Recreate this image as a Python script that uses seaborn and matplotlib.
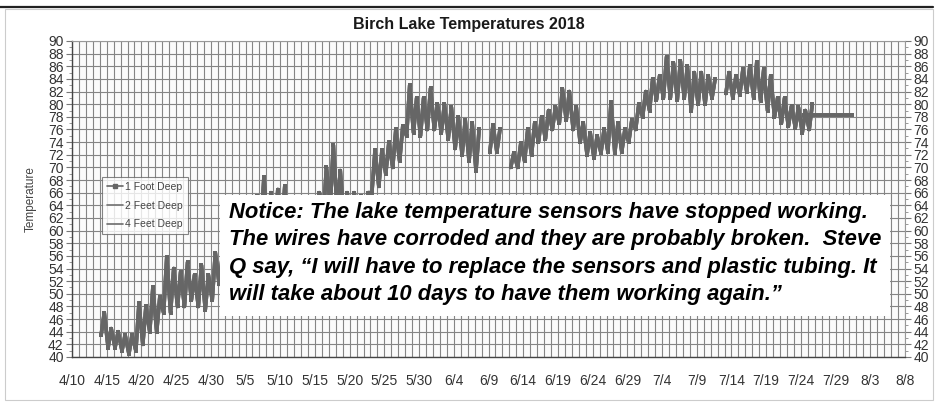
import numpy as np
import pandas as pd
import matplotlib
matplotlib.use("Agg")
import matplotlib.pyplot as plt
import matplotlib.patches as mpatches
from matplotlib.lines import Line2D
import seaborn as sns

# ---------------- data ----------------
title = "Birch Lake Temperatures 2018"
y_label = "Temperature"
depths = ["1 Foot Deep", "2 Feet Deep", "4 Feet Deep"]

# first day with data = 4/14  (day 4 counted from 4/10)
first_day = 4
# daily low / high temperatures (deg F), 4/14 ... 7/25 ; None = no data
daily_low = [43.5, 41.5, 41.5, 41.0, 40.5, 41.0, 42.0, 44.0, 44.0, 47.0,   # 4/14-4/23
             47.0, 48.0, 48.0, 49.0, 48.0, 47.5, 49.0, 51.5, 52.0, 53.0,   # 4/24-5/3
             54.0, 56.0, 58.0, 60.0, 59.0, 60.0, 60.0, 58.0, 57.0, 57.0,   # 5/4-5/13
             58.0, 60.0, 62.0, 64.0, 63.0, 61.0, 60.0, 61.0, 62.0, 66.0,   # 5/14-5/23
             67.0, 69.0, 70.0, 71.0, 75.0, 75.5, 75.0, 76.0, 76.0, 75.5,   # 5/24-6/2
             74.5, 73.0, 72.0, 71.0, 69.5, None, 72.5, 72.5, None, 70.0,   # 6/3-6/12
             70.0, 71.0, 72.0, 74.0, 74.5, 76.0, 77.0, 77.5, 76.0, 74.0,   # 6/13-6/22
             72.0, 71.5, 72.3, 72.5, 72.3, 72.5, 74.0, 76.0, 78.0, 79.0,   # 6/23-7/2
             80.7, 81.0, 81.0, 80.7, 81.0, 79.0, 80.0, 80.0, 81.0, None,   # 7/3-7/12
             81.7, 81.0, 81.5, 82.0, 81.0, 80.5, 79.0, 78.0, 77.0, 76.5,   # 7/13-7/22
             76.3, 75.5, 76.0]                                             # 7/23-7/25
daily_high = [47.0, 44.5, 44.0, 43.5, 43.5, 48.5, 48.0, 51.0, 49.5, 55.8,
              54.0, 53.5, 55.0, 53.0, 54.5, 53.0, 56.5, 56.0, 57.0, 58.0,
              60.0, 62.0, 65.5, 68.5, 66.0, 66.5, 67.0, 65.0, 63.0, 63.5,
              64.5, 66.0, 70.0, 73.5, 69.5, 66.0, 66.0, 65.5, 66.0, 72.7,
              72.7, 74.0, 76.0, 76.5, 83.0, 81.0, 81.0, 82.5, 80.0, 80.0,
              79.5, 78.0, 77.5, 77.0, 76.0, None, 76.7, 76.0, None, 72.3,
              73.8, 76.0, 77.0, 78.0, 79.0, 79.6, 82.4, 82.0, 79.5, 77.0,
              75.5, 75.0, 76.0, 80.3, 77.0, 76.0, 77.5, 80.0, 82.0, 84.0,
              84.5, 87.5, 86.5, 86.8, 86.0, 85.0, 85.0, 84.5, 84.0, None,
              85.0, 84.5, 85.5, 86.0, 86.7, 85.5, 84.5, 81.0, 81.0, 79.7,
              79.5, 79.0, 80.0]
# stuck sensor reading after 7/25 (flat line)
flat_value = 78.3
flat_days = [105.5, 112.4]

x_tick_labels = ["4/10", "4/15", "4/20", "4/25", "4/30", "5/5", "5/10", "5/15",
                 "5/20", "5/25", "5/30", "6/4", "6/9", "6/14", "6/19", "6/24",
                 "6/29", "7/4", "7/9", "7/14", "7/19", "7/24", "7/29", "8/3", "8/8"]
y_ticks = list(range(40, 91, 2))

notice = ("Notice: The lake temperature sensors have stopped working.\n"
          "The wires have corroded and they are probably broken.  Steve\n"
          "Q say, \u201cI will have to replace the sensors and plastic tubing. It\n"
          "will take about 10 days to have them working again.\u201d")

# ---------------- build long table ----------------
rows = []
seg = 0
for i, (lo, hi) in enumerate(zip(daily_low, daily_high)):
    d = first_day + i
    if lo is None:
        seg += 1
        continue
    rows.append((d + 0.2, lo, seg))
    rows.append((d + 0.65, hi, seg))
seg += 1
for fd in flat_days:
    rows.append((fd, flat_value, seg))
base = pd.DataFrame(rows, columns=["day", "temp", "seg"])

# ---------------- figure ----------------
sns.set_theme(style="white")
plt.rcParams["font.family"] = ["Liberation Sans Narrow", "Liberation Sans", "DejaVu Sans"]

fig = plt.figure(figsize=(9.4, 4.03), dpi=100)
fig.patch.set_facecolor("white")
W, H = 940, 403
ax = fig.add_axes([72 / W, (H - 357) / H, (905 - 72) / W, (357 - 41) / H])
ax.set_facecolor("#fbfbfb")

styles = {"1 Foot Deep": dict(color="#666666", lw=2.6, marker="s", ms=2.6),
          "2 Feet Deep": dict(color="#707070", lw=2.6, marker=None, ms=0),
          "4 Feet Deep": dict(color="#6c6c6c", lw=2.6, marker=None, ms=0)}
for dep in reversed(depths):
    st = styles[dep]
    sns.lineplot(data=base, x="day", y="temp", units="seg", estimator=None,
                 sort=False, color=st["color"], lw=st["lw"],
                 marker=st["marker"], markersize=st["ms"],
                 markeredgewidth=0, ax=ax, legend=False, zorder=3)

ax.set_xlim(0, 120)
ax.set_ylim(40, 90)
ax.set_xticks(np.arange(0, 121, 5))
ax.set_xticklabels(x_tick_labels)
ax.set_xticks(np.arange(0, 121, 1), minor=True)
ax.set_yticks(y_ticks)
ax.set_yticks(np.arange(41, 90, 2), minor=True)
ax.set_xlabel("")
ax.set_ylabel(y_label, fontsize=8.5, color="#444444", labelpad=8)

ax.grid(which="minor", axis="x", color="#858585", lw=0.8)
ax.grid(which="major", axis="x", color="#858585", lw=0.8)
ax.grid(which="major", axis="y", color="#858585", lw=0.8)
ax.set_axisbelow(True)

ax.tick_params(axis="x", which="major", length=4, width=0.8, color="#555555",
               labelsize=10, labelcolor="#333333", pad=8)
ax.tick_params(axis="x", which="minor", length=0)
ax.tick_params(axis="y", which="major", length=4, width=0.8, color="#777777",
               labelsize=10, labelcolor="#333333", pad=2,
               left=True, right=True, labelleft=True, labelright=True)
ax.tick_params(axis="y", which="minor", length=2, width=0.6, color="#888888",
               left=True, right=True)
for s in ["left", "bottom"]:
    ax.spines[s].set_color("#444444")
    ax.spines[s].set_linewidth(1.0)
for s in ["right", "top"]:
    ax.spines[s].set_color("#999999")
    ax.spines[s].set_linewidth(0.8)

fig.text(469 / W, 1 - 25 / H, title, ha="center", va="center",
         fontsize=11.5, fontweight="bold", color="#1a1a1a",
         family=["Liberation Sans", "DejaVu Sans"])

# legend
handles = [Line2D([], [], color=styles[d]["color"], lw=1.2,
                  marker=styles[d]["marker"], ms=2.5) for d in depths]
leg = ax.legend(handles, depths, loc="upper left",
                bbox_to_anchor=((102 - 72) / 833, (357 - 177) / 316),
                fontsize=7.5, frameon=True, fancybox=False, handlelength=1.6,
                handletextpad=0.2, borderpad=0.45, labelspacing=0.85,
                borderaxespad=0)
leg.get_frame().set_edgecolor("#666666")
leg.get_frame().set_linewidth(0.8)
for t in leg.get_texts():
    t.set_color("#444444")
leg.set_zorder(6)

# notice box
ax.add_patch(mpatches.Rectangle((220 / W, (H - 316) / H), 670 / W, 121 / H,
                                transform=fig.transFigure, facecolor="white",
                                edgecolor="none", zorder=7, clip_on=False))
ax.text(229 / W, 1 - 202 / H, notice, transform=fig.transFigure,
        ha="left", va="top", fontsize=15.8, fontweight="bold", style="italic",
        color="black", linespacing=1.4, zorder=8,
        family=["Liberation Sans", "DejaVu Sans"])

# outer frame
fig.add_artist(mpatches.Rectangle((5 / W, 3 / H), 928 / W, (H - 12) / H,
                                  transform=fig.transFigure, facecolor="none",
                                  edgecolor="#cccccc", lw=0.8))
fig.add_artist(Line2D([0, 933 / W], [1 - 7 / H, 1 - 7 / H],
                      transform=fig.transFigure, color="#222222", lw=1.6))

fig.savefig("out.png", dpi=100)
